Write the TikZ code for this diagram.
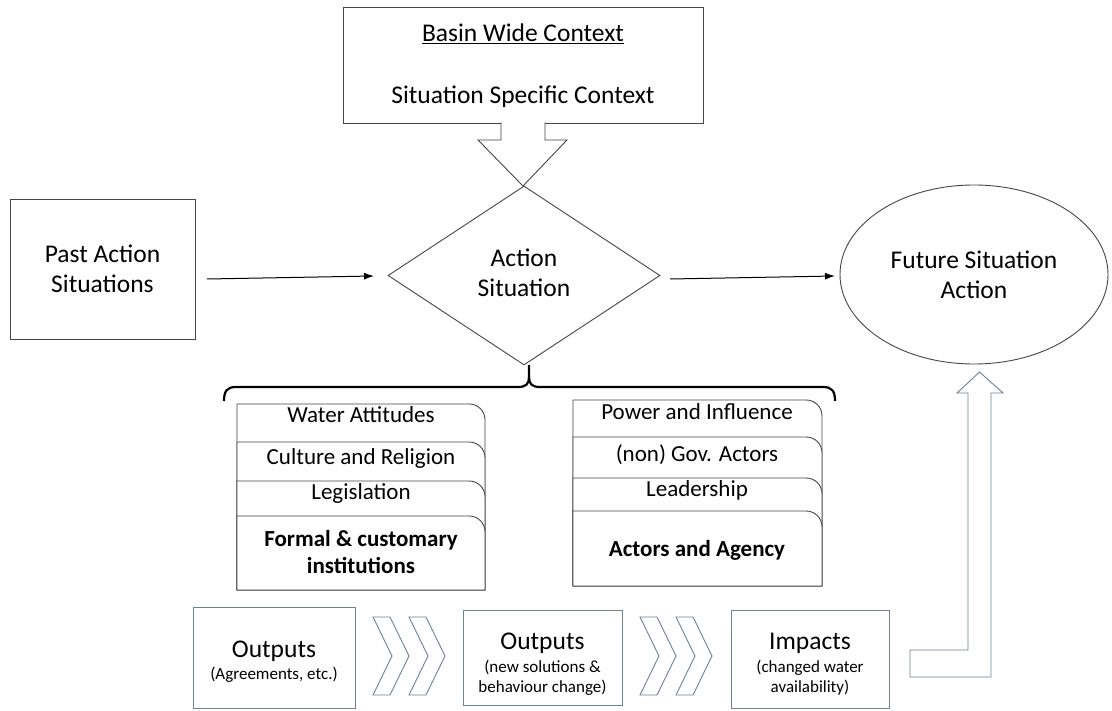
\documentclass[tikz,border=0pt]{standalone}
\usepackage{fontspec}
\setmainfont{Carlito}
\usetikzlibrary{shapes.geometric,arrows.meta}
\definecolor{lineg}{RGB}{70,70,70}
\definecolor{slate}{RGB}{112,128,150}
\newcommand{\cardshape}[4]{%
  \draw[box] (#1,#4) -- (#1,#3) -- ({#2-16},#3) .. controls ({#2-7},#3) and (#2,{#3+7}) .. (#2,{#3+16}) -- (#2,#4) -- cycle;}
\newcommand{\chevshape}[1]{%
  \draw[chev] (#1,617) -- ({#1+17},617) -- ({#1+36},656) -- ({#1+17},695) -- (#1,695) -- ({#1+19},656) -- cycle;}
\tikzset{
  box/.style={draw=lineg, line width=0.9pt, fill=white, inner sep=0pt},
  lbl/.style={font=\fontsize{25.5}{30}\selectfont, align=center, inner sep=0pt},
  cardtxt/.style={font=\fontsize{23}{27}\selectfont, align=center, inner sep=0pt},
  cardbold/.style={font=\fontsize{23}{27}\selectfont\bfseries, align=center, inner sep=0pt},
  bbox/.style={draw=slate, line width=1pt, inner sep=0pt},
  btitle/.style={font=\fontsize{25.5}{30}\selectfont, anchor=base, inner sep=0pt},
  bsub/.style={font=\fontsize{17}{20}\selectfont, anchor=base, inner sep=0pt},
  conn/.style={draw=black, line width=1pt, -{Latex[length=10pt,width=7pt]}},
  chev/.style={draw=slate, line width=0.9pt, fill=white},
  bracestyle/.style={draw=black, line width=2.2pt}
}
\begin{document}
\begin{tikzpicture}[x=1pt,y=-1pt]
\useasboundingbox[fill=white] (0,0) rectangle (1112,711);

% top context box
\node[box, minimum width=360pt, minimum height=116pt] (ctx) at (523,65) {};
\node[lbl, anchor=base] (basin) at (523,42) {\underline{Basin Wide Context}};
\node[lbl, anchor=base] (spec) at (523,104) {Situation Specific Context};
% hollow down arrow
\draw[box] (501,122.3) -- (501,140) -- (478,140) -- (523,186) -- (567,140) -- (545,140) -- (545,122.3);

% diamond
\node[draw=lineg, line width=0.9pt, shape=diamond, inner sep=0pt, minimum width=272pt, minimum height=179pt] (act) at (524,275.5) {};
\node[lbl] (acttxt) at (524,273) {Action\\Situation};

% past box
\node[box, minimum width=185pt, minimum height=140pt, lbl] (past) at (102.5,269) {Past Action\\Situations};

% future ellipse
\node[draw=lineg, line width=0.9pt, shape=ellipse, inner sep=0pt, minimum width=268pt, minimum height=179pt, lbl] (future) at (974,274.5) {Future Situation\\Action};

% connectors
\coordinate (p1) at (207,279);
\coordinate (p2) at (374,276);
\coordinate (f1) at (670,279);
\coordinate (f2) at (835,276);
\draw[conn] (p1) -- (p2);
\draw[conn] (f1) -- (f2);

% brace
\draw[bracestyle] (224,401) .. controls (224,391) and (227,387) .. (236,387) -- (518,387) .. controls (526,387) and (529,384) .. (529,377) -- (529,365);
\draw[bracestyle] (529,377) .. controls (529,384) and (532,387) .. (540,387) -- (823,387) .. controls (832,387) and (835,391) .. (835,401);

% left cards
\cardshape{237}{485}{404}{590}
\cardshape{237}{485}{442}{590}
\cardshape{237}{485}{481}{590}
\cardshape{237}{485}{516}{590}
\node[cardtxt] (c1) at (361,415) {Water Attitudes};
\node[cardtxt] (c2) at (361,458) {Culture and Religion};
\node[cardtxt] (c3) at (361,493) {Legislation};
\node[cardbold] (c4) at (361,552) {Formal \& customary\\institutions};

% right cards
\cardshape{573}{822}{400}{586}
\cardshape{573}{822}{437}{586}
\cardshape{573}{822}{478}{586}
\cardshape{573}{822}{511}{586}
\node[cardtxt] (d1) at (697,412) {Power and Influence};
\node[cardtxt] (d2) at (697,455) {(non) Gov. Actors};
\node[cardtxt] (d3) at (697,490) {Leadership};
\node[cardbold] (d4) at (697,550) {Actors and Agency};

% bottom boxes
\node[bbox, minimum width=162pt, minimum height=101pt] (o1) at (274,657.5) {};
\node[btitle] (o1t) at (274,657) {Outputs};
\node[bsub] (o1s) at (274,679) {(Agreements, etc.)};

\node[bbox, minimum width=159pt, minimum height=95pt] (o2) at (542.5,657.5) {};
\node[btitle] (o2t) at (542.5,649) {Outputs};
\node[bsub] (o2s) at (542.5,672) {(new solutions \&};
\node[bsub] (o2u) at (542.5,692) {behaviour change)};

\node[bbox, minimum width=158pt, minimum height=98pt] (o3) at (810,659) {};
\node[btitle] (o3t) at (810,649) {Impacts};
\node[bsub] (o3s) at (810,672) {(changed water};
\node[bsub] (o3u) at (810,692) {availability)};

% chevrons
\chevshape{373}
\chevshape{409}
\chevshape{640}
\chevshape{676}

% L-shaped up arrow
\draw[chev] (910,650) -- (968,650) -- (968,393) -- (957,393) -- (979.5,372) -- (1003,393) -- (991,393) -- (991,677) -- (910,677) -- cycle;
\end{tikzpicture}
\end{document}
